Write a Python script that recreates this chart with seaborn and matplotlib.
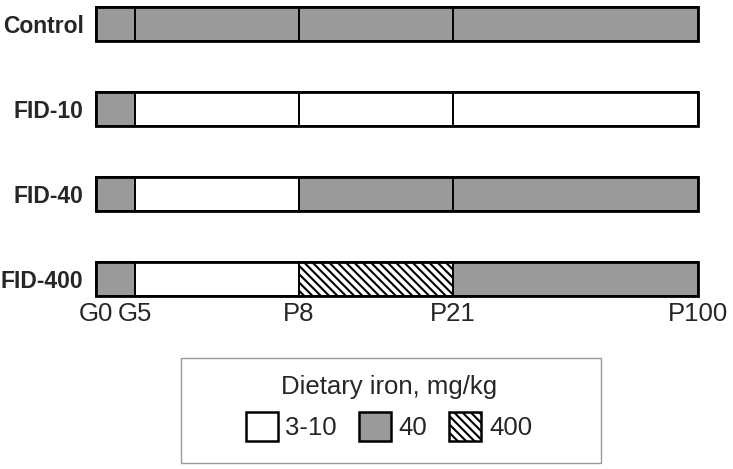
import matplotlib
matplotlib.use("Agg")
import matplotlib.pyplot as plt
from matplotlib.patches import Patch, Rectangle
import seaborn as sns

# rows of the diagram, top to bottom
groups = ['Control', 'FID-10', 'FID-40', 'FID-400']

# time points and where they sit on the (non-linear) time axis
stages = ['G0', 'G5', 'P8', 'P21', 'P100']
stage_pos = [0, 6.5, 33.7, 59.3, 100]

# dietary iron (mg/kg) fed in each interval G0-G5, G5-P8, P8-P21, P21-P100
control_diet = ['40', '40', '40', '40']
fid10_diet = ['40', '3-10', '3-10', '3-10']
fid40_diet = ['40', '3-10', '40', '40']
fid400_diet = ['40', '3-10', '400', '40']

diet_levels = ['3-10', '40', '400']

sns.set_theme(style='white')
plt.rcParams['font.family'] = ['Liberation Sans', 'DejaVu Sans']
plt.rcParams['hatch.linewidth'] = 1.5

styles = {
    '3-10': dict(facecolor='white', hatch=None),
    '40': dict(facecolor='#9a9a9a', hatch=None),
    '400': dict(facecolor='white', hatch='\\\\\\\\'),
}

fig = plt.figure(figsize=(7.33, 4.69), dpi=100)
ax = fig.add_axes([96 / 733, 1 - 300 / 469, 602 / 733, 295 / 469])

all_diets = [control_diet, fid10_diet, fid40_diet, fid400_diet]
starts = stage_pos[:-1]
widths = [b - a for a, b in zip(stage_pos[:-1], stage_pos[1:])]

for row, diet in enumerate(all_diets):
    for left, w, level in zip(starts, widths, diet):
        st = styles[level]
        ax.barh(row, w, left=left, height=0.41, color=st['facecolor'],
                hatch=st['hatch'], edgecolor='black', linewidth=1.4, clip_on=False)
    # thicker outline round the whole bar
    ax.barh(row, stage_pos[-1] - stage_pos[0], left=stage_pos[0], height=0.41,
            fill=False, edgecolor='black', linewidth=2, clip_on=False)

ax.set_xlim(stage_pos[0], stage_pos[-1])
ax.set_ylim(3 + 21 / 85, -19 / 85)
ax.set_yticks(range(len(groups)))
ax.set_yticklabels(groups, fontsize=16.5, fontweight='bold')
ax.set_xticks(stage_pos)
ax.set_xticklabels(stages, fontsize=18.5)
ax.tick_params(axis='y', length=0, pad=9)
ax.tick_params(axis='x', length=0, pad=1.5)
ax.set_xlabel('')
ax.set_ylabel('')
sns.despine(ax=ax, left=True, bottom=True)

# legend box
fig.patches.append(Rectangle((181 / 733, 1 - 463 / 469), 420 / 733, 105 / 469,
                             transform=fig.transFigure, fill=False,
                             edgecolor='#999999', linewidth=1.0))

handles = [Patch(facecolor=styles[l]['facecolor'], hatch=styles[l]['hatch'],
                 edgecolor='black', linewidth=1.8, label=l) for l in diet_levels]
leg = fig.legend(handles=handles, title='Dietary iron, mg/kg', ncol=3,
                 loc='center', bbox_to_anchor=(389 / 733, 1 - 408 / 469),
                 fontsize=18.5, title_fontsize=18.5, frameon=False,
                 handlelength=1.25, handleheight=1.4, handletextpad=0.3,
                 columnspacing=0.85, borderpad=0.2, labelspacing=0.5)

fig.savefig('out.png', dpi=100)
